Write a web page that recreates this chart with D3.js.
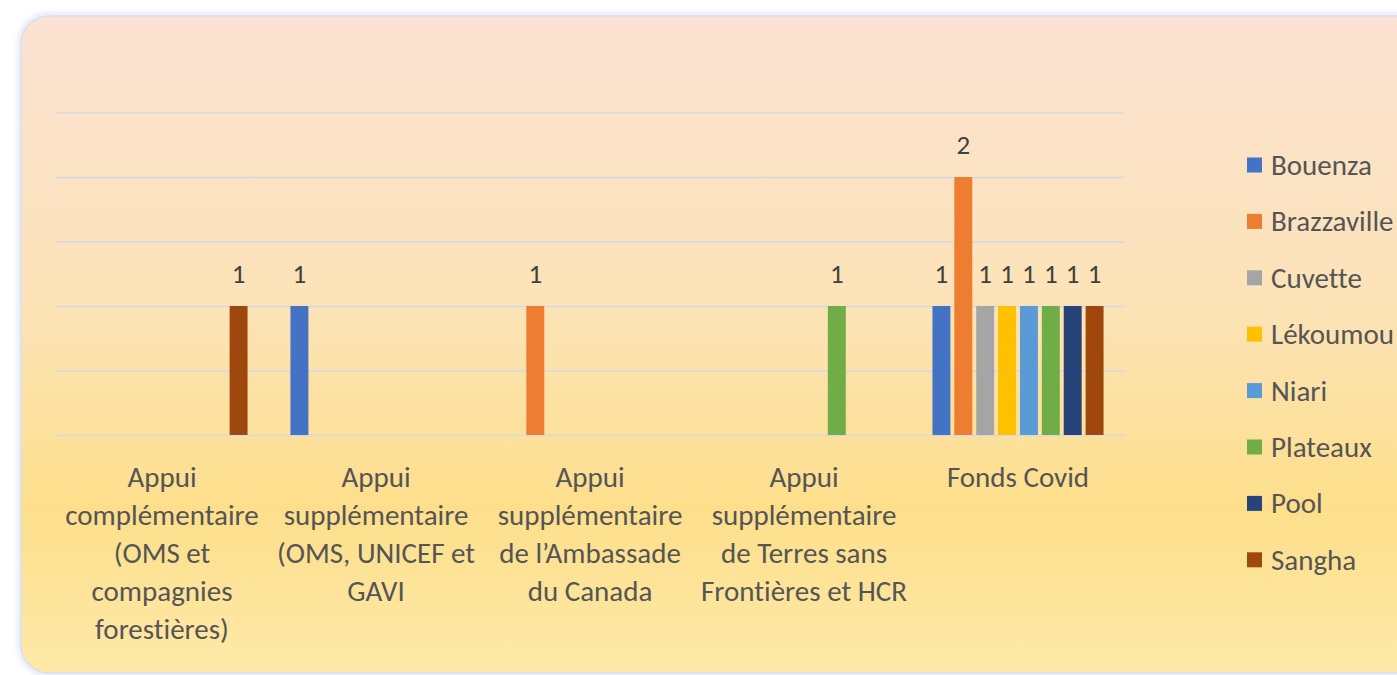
<!DOCTYPE html>
<html>
<head>
<meta charset="utf-8">
<script src="https://cdn.jsdelivr.net/npm/d3@7"></script>
<style>
  body { margin: 0; background: #fff; overflow: hidden; }
  svg { display: block; font-family: Carlito, Lato, "Open Sans", sans-serif; font-variant-ligatures: none; }
</style>
</head>
<body>
<div id="chart"></div>
<script>
// categories (line breaks as in the original axis labels)
const categories = [
  "Appui\ncomplémentaire\n(OMS et\ncompagnies\nforestières)",
  "Appui\nsupplémentaire\n(OMS, UNICEF et\nGAVI",
  "Appui\nsupplémentaire\nde l’Ambassade\ndu Canada",
  "Appui\nsupplémentaire\nde Terres sans\nFrontières et HCR",
  "Fonds Covid"
];
const seriesNames = ["Bouenza", "Brazzaville", "Cuvette", "Lékoumou", "Niari", "Plateaux", "Pool", "Sangha"];
const seriesColors = ["#4472C4", "#ED7D31", "#A5A5A5", "#FFC000", "#5B9BD5", "#70AD47", "#264478", "#9E480E"];
// one array per series, value per category (null = no bar)
const bouenza     = [null, 1, null, null, 1];
const brazzaville = [null, null, 1, null, 2];
const cuvette     = [null, null, null, null, 1];
const lekoumou    = [null, null, null, null, 1];
const niari       = [null, null, null, null, 1];
const plateaux    = [null, null, null, 1, 1];
const pool        = [null, null, null, null, 1];
const sangha      = [1, null, null, null, 1];
const gridTicks = [0, 0.5, 1, 1.5, 2, 2.5];

const seriesValues = [bouenza, brazzaville, cuvette, lekoumou, niari, plateaux, pool, sangha];

const W = 1397, H = 675;
const plot = {left: 55, right: 1125, top: 112.5, bottom: 435};

const svg = d3.select("#chart").append("svg")
    .attr("width", W)
    .attr("height", H);

// background gradient
var defs = svg.append("defs");
var grad = defs.append("linearGradient")
    .attr("id", "bg").attr("x1", 0).attr("y1", 0).attr("x2", 0).attr("y2", 1);
grad.append("stop").attr("offset", "0%").attr("stop-color", "#FBE2D3");
grad.append("stop").attr("offset", "45%").attr("stop-color", "#FCE3B6");
grad.append("stop").attr("offset", "75%").attr("stop-color", "#FDDF8B");
grad.append("stop").attr("offset", "100%").attr("stop-color", "#FEE9A8");

var blur = defs.append("filter").attr("id", "glow")
    .attr("x", "-5%").attr("y", "-5%").attr("width", "110%").attr("height", "110%");
blur.append("feGaussianBlur").attr("stdDeviation", 2.5);

svg.append("rect")
    .attr("x", 20).attr("y", 15).attr("width", 1420).attr("height", 659)
    .attr("rx", 28)
    .attr("fill", "none")
    .attr("stroke", "#E3E8F4")
    .attr("stroke-width", 5)
    .attr("filter", "url(#glow)");

svg.append("rect")
    .attr("x", 21).attr("y", 16).attr("width", 1420).attr("height", 657)
    .attr("rx", 28)
    .attr("fill", "url(#bg)")
    .attr("stroke", "#D5DFF0")
    .attr("stroke-width", 1.5);

// scales
var x0 = d3.scaleBand()
    .domain(d3.range(categories.length))
    .range([plot.left, plot.right])
    .paddingInner(0.182)
    .paddingOuter(0.091);

var x1 = d3.scaleBand()
    .domain(d3.range(seriesNames.length))
    .range([0, x0.bandwidth()])
    .paddingInner(0.18)
    .paddingOuter(0.09);

var y = d3.scaleLinear()
    .domain([0, 2.5])
    .range([plot.bottom, plot.top]);

// gridlines
var grid = svg.append("g")
    .attr("transform", "translate(" + plot.left + ",0)")
    .call(d3.axisLeft(y).tickValues(gridTicks).tickSize(-(plot.right - plot.left)).tickFormat(""));
grid.select(".domain").remove();
grid.selectAll(".tick line").attr("stroke", "#D3D9E4").attr("stroke-width", 1.5);

// bars
var rows = [];
seriesValues.forEach(function(vals, s) {
  vals.forEach(function(v, c) {
    if (v != null) rows.push({s: s, c: c, v: v});
  });
});

svg.append("g").selectAll("rect")
  .data(rows)
  .enter().append("rect")
    .attr("x", function(d) { return x0(d.c) + x1(d.s); })
    .attr("width", x1.bandwidth())
    .attr("y", function(d) { return y(d.v); })
    .attr("height", function(d) { return y(0) - y(d.v); })
    .attr("fill", function(d) { return seriesColors[d.s]; });

// data labels
svg.append("g").selectAll("text")
  .data(rows)
  .enter().append("text")
    .attr("x", function(d) { return x0(d.c) + x1(d.s) + x1.bandwidth() / 2; })
    .attr("y", function(d) { return y(d.v) - 23; })
    .attr("text-anchor", "middle")
    .attr("fill", "#404040")
    .style("font-size", "27px")
    .text(function(d) { return d.v; });

// category labels
var xlab = svg.append("g").selectAll("text")
  .data(categories)
  .enter().append("text")
    .attr("text-anchor", "middle")
    .attr("fill", "#555555")
    .style("font-size", "29px")
    .attr("transform", function(d, i) { return "translate(" + (x0(i) + x0.bandwidth() / 2) + ",487)"; });
xlab.selectAll("tspan")
  .data(function(d) { return d.split("\n"); })
  .enter().append("tspan")
    .attr("x", 0)
    .attr("y", function(d, i) { return i * 38; })
    .text(function(d) { return d; });

// legend
var legend = svg.append("g").selectAll("g")
  .data(seriesNames)
  .enter().append("g")
    .attr("transform", function(d, i) { return "translate(1247," + (165 + i * 56.4) + ")"; });
legend.append("rect")
    .attr("x", 0).attr("y", -7.5)
    .attr("width", 15).attr("height", 15)
    .attr("fill", function(d, i) { return seriesColors[i]; });
legend.append("text")
    .attr("x", 24).attr("y", 10)
    .attr("fill", "#555555")
    .style("font-size", "29px")
    .text(function(d) { return d; });
</script>
</body>
</html>
